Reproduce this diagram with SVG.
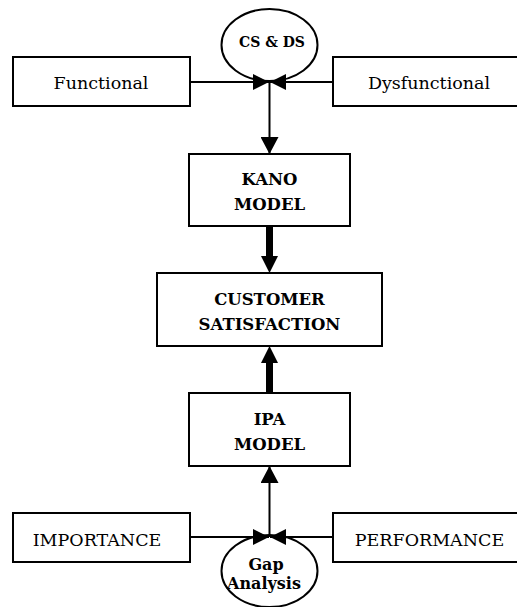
<svg xmlns="http://www.w3.org/2000/svg" width="517" height="607" viewBox="0 0 517 607">
<style>
.box{fill:#fff;stroke:#000;stroke-width:2}
.t{font-family:"DejaVu Serif","Liberation Serif",serif;font-size:17.5px;fill:#000;text-anchor:middle}
.b{font-family:"DejaVu Serif","Liberation Serif",serif;font-size:16.5px;font-weight:bold;fill:#000;text-anchor:middle}
.s{font-size:14px}
.g{font-size:16px}
.thin{stroke:#000;stroke-width:2;fill:none}
.thick{stroke:#000;stroke-width:7;fill:none}
</style>
<defs>
<marker id="ah" markerUnits="userSpaceOnUse" markerWidth="17" markerHeight="16" refX="16" refY="8" orient="auto">
<path d="M0,0 L16,8 L0,16 Z" fill="#000"/>
</marker>
<marker id="ahk" markerUnits="userSpaceOnUse" markerWidth="18" markerHeight="18" refX="17" refY="9" orient="auto">
<path d="M0,0 L17,9 L0,18 Z" fill="#000"/>
</marker>
</defs>
<g id="csds"><ellipse class="box" cx="269.5" cy="45" rx="48" ry="36"/><text class="b s" x="272" y="47">CS &amp; DS</text></g>
<g id="functional"><rect class="box" x="13" y="57" width="177" height="49"/><text class="t" x="101" y="89">Functional</text></g>
<g id="dysfunctional"><rect class="box" x="333" y="57" width="200" height="49"/><text class="t" x="429" y="89">Dysfunctional</text></g>
<g id="kano"><rect class="box" x="189" y="154" width="161" height="72"/><text class="b" x="269.5" y="185">KANO</text><text class="b" x="269.5" y="210">MODEL</text></g>
<g id="cs"><rect class="box" x="157" y="273" width="225" height="73"/><text class="b" x="269.5" y="305">CUSTOMER</text><text class="b" x="269.5" y="330">SATISFACTION</text></g>
<g id="ipa"><rect class="box" x="189" y="393" width="161" height="73"/><text class="b" x="269.5" y="425">IPA</text><text class="b" x="269.5" y="450">MODEL</text></g>
<g id="importance"><rect class="box" x="13" y="513" width="177" height="49"/><text class="t" x="97" y="546">IMPORTANCE</text></g>
<g id="performance"><rect class="box" x="333" y="513" width="200" height="49"/><text class="t" x="429.5" y="546">PERFORMANCE</text></g>
<g id="gap"><ellipse class="box" cx="269.5" cy="571" rx="48" ry="36"/><text class="b g" x="266" y="570">Gap</text><text class="b g" x="264" y="589">Analysis</text></g>
<g id="connectors">
<line class="thin" x1="190" y1="82" x2="269" y2="82" marker-end="url(#ah)"/>
<line class="thin" x1="333" y1="82" x2="270" y2="82" marker-end="url(#ah)"/>
<line class="thin" x1="269.5" y1="82" x2="269.5" y2="154" marker-end="url(#ahk)"/>
<line class="thick" x1="269.5" y1="227" x2="269.5" y2="257"/>
<path d="M261,256 L278,256 L269.5,273 Z" fill="#000"/>
<line class="thick" x1="269.5" y1="392" x2="269.5" y2="362"/>
<path d="M261,363 L278,363 L269.5,346 Z" fill="#000"/>
<line class="thin" x1="269.5" y1="537" x2="269.5" y2="466" marker-end="url(#ahk)"/>
<line class="thin" x1="190" y1="537" x2="269" y2="537" marker-end="url(#ah)"/>
<line class="thin" x1="333" y1="537" x2="270" y2="537" marker-end="url(#ah)"/>
</g>
</svg>
